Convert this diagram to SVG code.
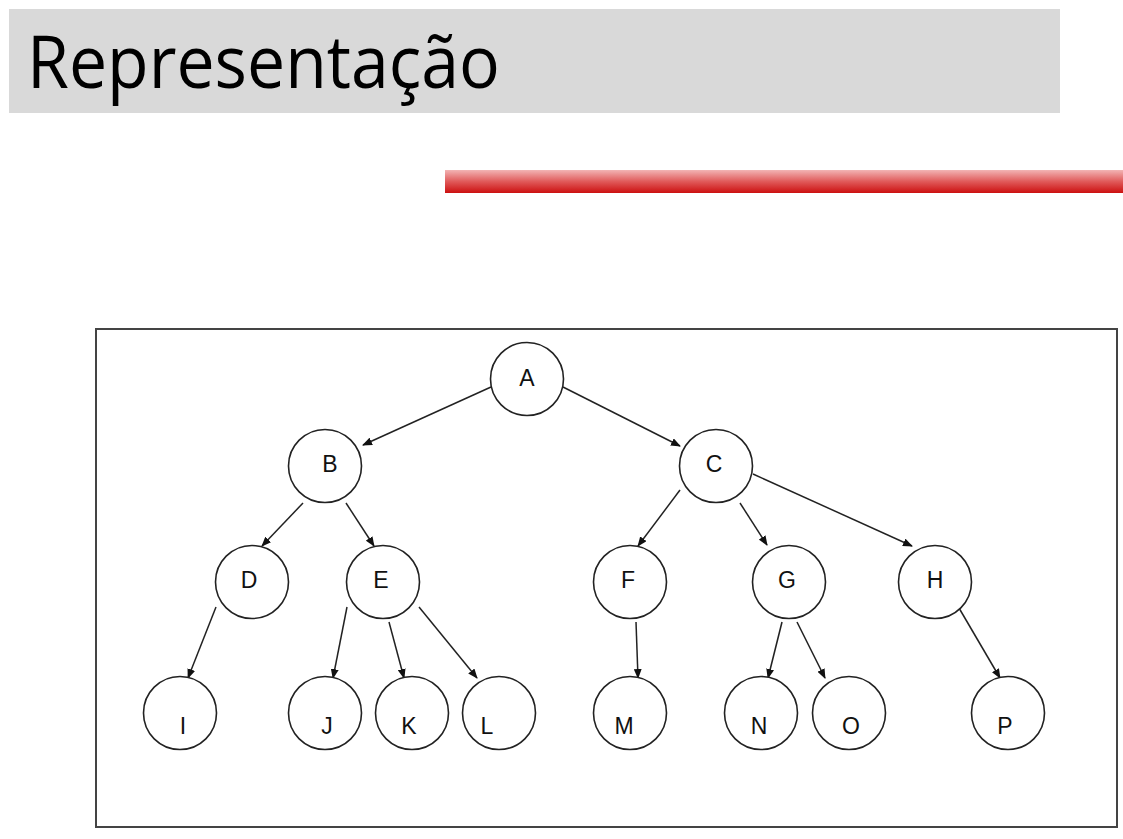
<svg xmlns="http://www.w3.org/2000/svg" width="1123" height="839" viewBox="0 0 1123 839">
<style>
.node circle{fill:#fff;stroke:#222;stroke-width:1.6}
.node text{font-family:"Liberation Sans",Arial,sans-serif;font-size:23px;fill:#111;text-anchor:middle}
.edge{stroke:#222;stroke-width:1.5;fill:none;marker-end:url(#arr)}
</style>
<defs>
<linearGradient id="red" x1="0" y1="0" x2="0" y2="1">
<stop offset="0" stop-color="#f2b4b4"/>
<stop offset="0.5" stop-color="#e05a5a"/>
<stop offset="1" stop-color="#cc1010"/>
</linearGradient>
<marker id="arr" markerUnits="userSpaceOnUse" markerWidth="10" markerHeight="8" refX="9" refY="4" orient="auto">
<path d="M0,0 L10,4 L0,8 Z" fill="#111"/>
</marker>
</defs>
<rect width="1123" height="839" fill="#fff"/>
<rect x="9" y="9" width="1051" height="104" fill="#d9d9d9"/>
<text x="27" y="88" font-family="'Open Sans','Noto Sans',sans-serif" font-size="73" fill="#000" textLength="473" lengthAdjust="spacingAndGlyphs">Representação</text>
<rect x="445" y="170" width="678" height="23" fill="url(#red)"/>
<rect x="96" y="329" width="1021" height="498" fill="none" stroke="#444" stroke-width="2"/>
<g id="connectors">
<line class="edge" x1="491" y1="387" x2="363" y2="445"/>
<line class="edge" x1="563" y1="387" x2="680" y2="446"/>
<line class="edge" x1="303" y1="503" x2="262" y2="546"/>
<line class="edge" x1="346" y1="503" x2="374" y2="546"/>
<line class="edge" x1="680" y1="490" x2="638" y2="546"/>
<line class="edge" x1="740" y1="503" x2="767" y2="545"/>
<line class="edge" x1="753" y1="474" x2="912" y2="546"/>
<line class="edge" x1="216" y1="607" x2="188" y2="678"/>
<line class="edge" x1="347" y1="607" x2="333" y2="678"/>
<line class="edge" x1="389" y1="622" x2="404" y2="678"/>
<line class="edge" x1="419" y1="607" x2="477" y2="678"/>
<line class="edge" x1="636" y1="622" x2="638" y2="678"/>
<line class="edge" x1="782" y1="622" x2="768" y2="678"/>
<line class="edge" x1="797" y1="622" x2="825" y2="678"/>
<line class="edge" x1="959" y1="608" x2="1000" y2="678"/>
</g>
<g id="A" class="node"><circle cx="527" cy="379" r="36.5"/><text x="527" y="386">A</text></g>
<g id="B" class="node"><circle cx="325" cy="466" r="36.5"/><text x="330" y="472">B</text></g>
<g id="C" class="node"><circle cx="716" cy="466" r="36.5"/><text x="714" y="472">C</text></g>
<g id="D" class="node"><circle cx="252" cy="582" r="36.5"/><text x="249" y="588">D</text></g>
<g id="E" class="node"><circle cx="383" cy="582" r="36.5"/><text x="381" y="588">E</text></g>
<g id="F" class="node"><circle cx="630" cy="582" r="36.5"/><text x="628" y="588">F</text></g>
<g id="G" class="node"><circle cx="789" cy="582" r="36.5"/><text x="787" y="588">G</text></g>
<g id="H" class="node"><circle cx="935" cy="582" r="36.5"/><text x="935" y="588">H</text></g>
<g id="I" class="node"><circle cx="180" cy="713" r="36.5"/><text x="183" y="734">I</text></g>
<g id="J" class="node"><circle cx="325" cy="713" r="36.5"/><text x="327" y="734">J</text></g>
<g id="K" class="node"><circle cx="412" cy="713" r="36.5"/><text x="409" y="734">K</text></g>
<g id="L" class="node"><circle cx="499" cy="713" r="36.5"/><text x="487" y="734">L</text></g>
<g id="M" class="node"><circle cx="630" cy="713" r="36.5"/><text x="624" y="734">M</text></g>
<g id="N" class="node"><circle cx="761" cy="713" r="36.5"/><text x="759" y="734">N</text></g>
<g id="O" class="node"><circle cx="849" cy="713" r="36.5"/><text x="851" y="734">O</text></g>
<g id="P" class="node"><circle cx="1008" cy="713" r="36.5"/><text x="1005" y="734">P</text></g>
</svg>
